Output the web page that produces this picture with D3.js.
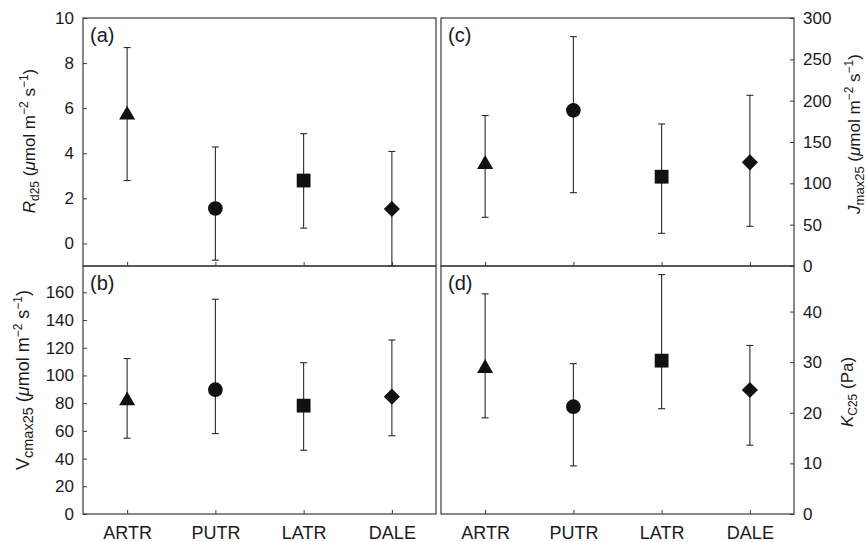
<!DOCTYPE html>
<html>
<head>
<meta charset="utf-8">
<script src="https://cdn.jsdelivr.net/npm/d3@7"></script>
<style>
    body { margin: 0; background: #fff; }
    text { font-family: Arial, 'Liberation Sans', sans-serif; fill: #1a1a1a; }
</style>
</head>
<body>
<div id="chart"></div>
<script>
// categories and marker shapes
var species = ['ARTR', 'PUTR', 'LATR', 'DALE'];
var shapes = ['triangle', 'circle', 'square', 'diamond'];

// (a) Rd25
var rdMean = [5.7, 1.55, 2.79, 1.53];
var rdLow = [2.79, -0.74, 0.68, -1.0];
var rdHigh = [8.69, 4.28, 4.87, 4.08];
var rdTicks = [0, 2, 4, 6, 8, 10];

// (b) Vcmax25
var vcMean = [81.8, 89.7, 78.2, 84.7];
var vcLow = [54.7, 58, 46, 56.5];
var vcHigh = [112.2, 155, 109.2, 125.6];
var vcTicks = [0, 20, 40, 60, 80, 100, 120, 140, 160];

// (c) Jmax25
var jMean = [123, 188.3, 108, 125.4];
var jLow = [58.9, 88.7, 39.5, 48];
var jHigh = [182, 277.4, 171.8, 206.5];
var jTicks = [0, 50, 100, 150, 200, 250, 300];

// (d) Kc25
var kcMean = [28.8, 21.2, 30.3, 24.5];
var kcLow = [19, 9.5, 20.8, 13.6];
var kcHigh = [43.5, 29.7, 47.3, 33.3];
var kcTicks = [0, 10, 20, 30, 40];

var svg = d3.select('#chart').append('svg')
    .attr('width', 867)
    .attr('height', 542);

var xLeft = d3.scalePoint().domain(species).range([83, 436]).padding(0.5);
var xRight = d3.scalePoint().domain(species).range([441, 794]).padding(0.5);

var symbolType = { triangle: d3.symbolTriangle, circle: d3.symbolCircle, square: d3.symbolSquare, diamond: d3.symbolSquare };
var symbolSize = { triangle: 112, circle: 170, square: 190, diamond: 130 };

var panels = [
    { label: '(a)', x: xLeft, y: d3.scaleLinear().domain([-1, 10]).range([266, 18]), ticks: rdTicks, mean: rdMean, low: rdLow, high: rdHigh, side: 'left', showX: false },
    { label: '(b)', x: xLeft, y: d3.scaleLinear().domain([0, 179]).range([514, 266]), ticks: vcTicks, mean: vcMean, low: vcLow, high: vcHigh, side: 'left', showX: true },
    { label: '(c)', x: xRight, y: d3.scaleLinear().domain([0, 300]).range([266, 18]), ticks: jTicks, mean: jMean, low: jLow, high: jHigh, side: 'right', showX: false },
    { label: '(d)', x: xRight, y: d3.scaleLinear().domain([0, 49]).range([514, 266]), ticks: kcTicks, mean: kcMean, low: kcLow, high: kcHigh, side: 'right', showX: true }
];

panels.forEach(function (p) {
    var x0 = p.x.range()[0], x1 = p.x.range()[1];
    var yb = p.y.range()[0], yt = p.y.range()[1];
    var g = svg.append('g');

    //frame
    g.append('rect')
        .attr('x', x0).attr('y', yt)
        .attr('width', x1 - x0).attr('height', yb - yt)
        .style('fill', 'none')
        .style('stroke', '#3a3a3a')
        .style('stroke-width', 1.2);

    //y axis with inward ticks
    var yAxis = (p.side === 'left' ? d3.axisLeft(p.y) : d3.axisRight(p.y))
        .tickValues(p.ticks)
        .tickSize(-4)
        .tickPadding(9)
        .tickFormat(d3.format('d'));

    g.append('g')
        .attr('transform', 'translate(' + (p.side === 'left' ? x0 : x1) + ',0)')
        .call(yAxis)
        .call(function (a) { a.select('.domain').remove(); })
        .call(function (a) { a.selectAll('line').style('stroke', '#3a3a3a'); })
        .selectAll('text')
        .style('font-size', '17px')
        .style('font-family', 'Arial, Liberation Sans, sans-serif')
        .style('fill', '#1a1a1a');

    //x axis
    var xAxis = d3.axisBottom(p.x)
        .tickSize(-4)
        .tickPadding(12);
    if (!p.showX) { xAxis.tickFormat(''); }

    g.append('g')
        .attr('transform', 'translate(0,' + yb + ')')
        .call(xAxis)
        .call(function (a) { a.select('.domain').remove(); })
        .call(function (a) { a.selectAll('line').style('stroke', '#3a3a3a'); })
        .selectAll('text')
        .style('font-size', '18px')
        .style('font-family', 'Arial, Liberation Sans, sans-serif')
        .style('fill', '#1a1a1a');

    var rows = species.map(function (s, i) {
        return { name: s, shape: shapes[i], mean: p.mean[i], low: p.low[i], high: p.high[i] };
    });

    //error bars
    g.selectAll('.bar')
        .data(rows)
        .join('line')
        .attr('x1', function (d) { return p.x(d.name); })
        .attr('x2', function (d) { return p.x(d.name); })
        .attr('y1', function (d) { return p.y(d.low); })
        .attr('y2', function (d) { return p.y(d.high); })
        .style('stroke', '#2a2a2a')
        .style('stroke-width', 1.1);

    ['low', 'high'].forEach(function (k) {
        g.selectAll('.cap-' + k)
            .data(rows)
            .join('line')
            .attr('x1', function (d) { return p.x(d.name) - 3.5; })
            .attr('x2', function (d) { return p.x(d.name) + 3.5; })
            .attr('y1', function (d) { return p.y(d[k]); })
            .attr('y2', function (d) { return p.y(d[k]); })
            .style('stroke', '#2a2a2a')
            .style('stroke-width', 1.1);
    });

    //markers
    g.selectAll('.marker')
        .data(rows)
        .join('path')
        .attr('d', function (d) { return d3.symbol().type(symbolType[d.shape]).size(symbolSize[d.shape])(); })
        .attr('transform', function (d) {
            return 'translate(' + p.x(d.name) + ',' + p.y(d.mean) + ')' + (d.shape === 'diamond' ? ' rotate(45)' : '');
        })
        .style('fill', '#111');

    g.append('text')
        .attr('x', x0 + 7)
        .attr('y', yt + 24)
        .style('font-size', '20px')
        .text(p.label);
});

// axis titles with sub/superscripts
function title(cx, cy, size, subSize, parts) {
    var t = svg.append('text')
        .attr('transform', 'translate(' + cx + ',' + cy + ') rotate(-90)')
        .style('text-anchor', 'middle')
        .style('font-size', size + 'px');
    parts.forEach(function (d) {
        var s = t.append('tspan').text(d.t);
        if (d.i) { s.style('font-style', 'italic'); }
        if (d.sub) { s.attr('baseline-shift', '-4').style('font-size', subSize + 'px'); }
        if (d.sup) { s.attr('baseline-shift', '7').style('font-size', '12px'); }
    });
}

var unit = [{ t: ' (' }, { t: 'μ', i: true }, { t: 'mol m' }, { t: '−2', sup: true }, { t: ' s' }, { t: '−1', sup: true }, { t: ')' }];

title(35, 141, 17, 12, [{ t: 'R', i: true }, { t: 'd25', sub: true }].concat(unit));
title(29, 380, 18, 14.5, [{ t: 'V' }, { t: 'cmax25', sub: true }].concat(unit));
title(860, 134, 17, 13, [{ t: 'J', i: true }, { t: 'max25', sub: true }].concat(unit));
title(853, 392, 17, 12, [{ t: 'K', i: true }, { t: 'C25', sub: true }, { t: ' (Pa)' }]);
</script>
</body>
</html>
